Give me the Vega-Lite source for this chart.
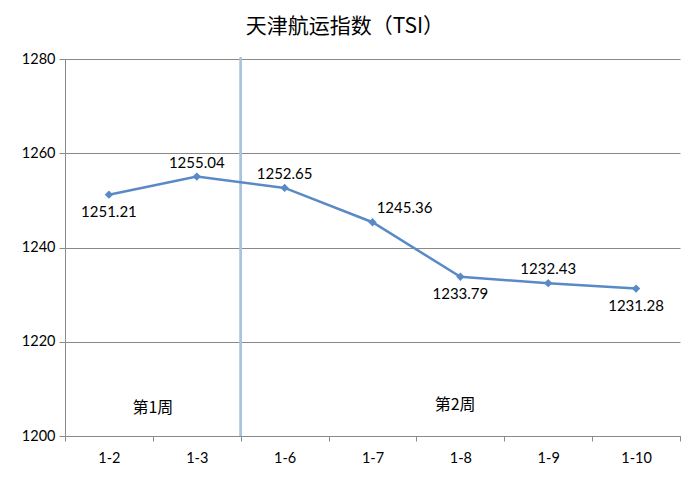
{
  "$schema": "https://vega.github.io/schema/vega-lite/v6.json",
  "width": 615,
  "height": 377,
  "autosize": {"type": "none"},
  "padding": {"left": 65, "top": 59, "right": 14, "bottom": 51},
  "background": "white",
  "title": {
    "text": "天津航运指数（TSI）",
    "font": "Noto Sans CJK SC",
    "fontSize": 21,
    "fontWeight": "normal",
    "color": "#000000",
    "anchor": "middle",
    "frame": "bounds",
    "offset": 14,
    "dx": -6
  },
  "config": {
    "view": {"stroke": null},
    "font": "Lato",
    "axis": {
      "labelFont": "Lato",
      "labelFontSize": 14.5,
      "labelColor": "#000000",
      "domainColor": "#898989",
      "tickColor": "#898989",
      "gridColor": "#898989",
      "domainWidth": 1,
      "tickWidth": 1,
      "gridWidth": 1,
      "title": null
    }
  },
  "datasets": {
    "tsi": [
      {"date": "1-2", "value": 1251.21},
      {"date": "1-3", "value": 1255.04},
      {"date": "1-6", "value": 1252.65},
      {"date": "1-7", "value": 1245.36},
      {"date": "1-8", "value": 1233.79},
      {"date": "1-9", "value": 1232.43},
      {"date": "1-10", "value": 1231.28}
    ]
  },
  "data": {"name": "tsi"},
  "encoding": {
    "x": {
      "field": "date",
      "type": "nominal",
      "sort": null,
      "scale": {"type": "band", "domain": ["1-2", "1-3", "1-6", "1-7", "1-8", "1-9", "1-10"], "paddingInner": 0, "paddingOuter": 0},
      "axis": {
        "labelAngle": 0,
        "tickBand": "extent",
        "tickSize": 5,
        "labelPadding": 10,
        "grid": false
      }
    },
    "y": {
      "field": "value",
      "type": "quantitative",
      "scale": {"domain": [1200, 1280], "zero": false, "nice": false},
      "axis": {
        "values": [1200, 1220, 1240, 1260, 1280],
        "format": "d",
        "tickSize": 6,
        "labelPadding": 4,
        "grid": true
      }
    }
  },
  "layer": [
    {
      "mark": {"type": "rule", "color": "#A9C4DF", "strokeWidth": 1.8},
      "encoding": {
        "x": {"datum": "1-6", "type": "nominal", "bandPosition": 0},
        "y": {"datum": 1200},
        "y2": {"datum": 1280.3}
      }
    },
    {
      "mark": {"type": "line", "color": "#5A8AC6", "strokeWidth": 2.5}
    },
    {
      "mark": {"type": "point", "shape": "diamond", "filled": true, "color": "#5A8AC6", "size": 70, "opacity": 1}
    },
    {
      "transform": [{"filter": "indexof(['1-3','1-6','1-9'], datum.date) >= 0"}],
      "mark": {"type": "text", "fontSize": 15, "font": "Lato", "color": "#000000", "dy": -14},
      "encoding": {"text": {"field": "value", "format": ".2f"}}
    },
    {
      "transform": [{"filter": "indexof(['1-2','1-8','1-10'], datum.date) >= 0"}],
      "mark": {"type": "text", "fontSize": 15, "font": "Lato", "color": "#000000", "dy": 17},
      "encoding": {"text": {"field": "value", "format": ".2f"}}
    },
    {
      "transform": [{"filter": "datum.date === '1-7'"}],
      "mark": {"type": "text", "fontSize": 15, "font": "Lato", "color": "#000000", "dx": 32, "dy": -14},
      "encoding": {"text": {"field": "value", "format": ".2f"}}
    },
    {
      "data": {"values": [{"label": "第1周", "pos": "1-3", "level": 1205.9}]},
      "mark": {"type": "text", "font": "Noto Sans CJK SC", "fontSize": 16, "color": "#000000"},
      "encoding": {
        "x": {"field": "pos", "type": "nominal", "bandPosition": 0},
        "y": {"field": "level", "type": "quantitative"},
        "text": {"field": "label"}
      }
    },
    {
      "data": {"values": [{"label": "第2周", "pos": "1-8", "level": 1206.6}]},
      "mark": {"type": "text", "font": "Noto Sans CJK SC", "fontSize": 16, "color": "#000000"},
      "encoding": {
        "x": {"field": "pos", "type": "nominal", "bandPosition": 0.44},
        "y": {"field": "level", "type": "quantitative"},
        "text": {"field": "label"}
      }
    }
  ]
}
